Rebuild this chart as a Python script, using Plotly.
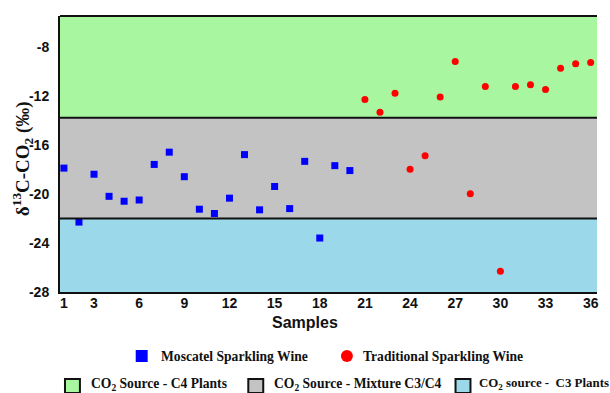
import plotly.graph_objects as go

# ---------------- data ----------------
moscatel_samples = list(range(1, 21))
moscatel_values = [-17.9, -22.3, -18.4, -20.2, -20.6, -20.5, -17.6, -16.6, -18.6, -21.25,
                   -21.6, -20.35, -16.8, -21.3, -19.4, -21.2, -17.35, -23.6, -17.7, -18.1]
traditional_samples = list(range(21, 37))
traditional_values = [-12.3, -13.35, -11.8, -18.0, -16.9, -12.1, -9.2, -20.0,
                      -11.25, -26.3, -11.25, -11.1, -11.5, -9.75, -9.4, -9.3]
x_tick_vals = [1, 3, 6, 9, 12, 15, 18, 21, 24, 27, 30, 33, 36]
y_tick_vals = [-28, -24, -20, -16, -12, -8]
y_tick_text = ["-28", "-24", "-20", "-16", "-12", "-8"]
zone_bounds = [-28, -22.0, -13.8, -5.5]   # C3 | mixture | C4
zone_names = ["CO<sub>2</sub> source -\u00a0 C3 Plants",
              "CO<sub>2</sub> Source - Mixture C3/C4",
              "CO<sub>2</sub> Source - C4 Plants"]
zone_colors = ["#9AD8EA", "#C3C3C3", "#A8F7A0"]
series_names = ["Moscatel Sparkling Wine", "Traditional Sparkling Wine"]

# ---------------- layout constants ----------------
W, H = 610, 393
ML, MR, MT, MB = 60, 11, 16, 101
PW, PH = W - ML - MR, H - MT - MB


def px(xp):
    return (xp - ML) / PW


def py(yp):
    return (H - MB - yp) / PH


fig = go.Figure()
fig.add_trace(go.Scatter(x=moscatel_samples, y=moscatel_values, mode="markers",
                         name=series_names[0],
                         marker=dict(symbol="square", size=7, color="#0000FF")))
fig.add_trace(go.Scatter(x=traditional_samples, y=traditional_values, mode="markers",
                         name=series_names[1],
                         marker=dict(symbol="circle", size=7, color="#FF0000")))

shapes = []
# colored zones
for i in range(3):
    shapes.append(dict(type="rect", xref="paper", yref="y", x0=0, x1=1,
                       y0=zone_bounds[i], y1=zone_bounds[i + 1],
                       fillcolor=zone_colors[i], line=dict(width=0), layer="below"))
# boundaries between zones
for b in zone_bounds[1:3]:
    shapes.append(dict(type="line", xref="paper", yref="y", x0=0, x1=1, y0=b, y1=b,
                       line=dict(color="#111111", width=2)))
# top border
shapes.append(dict(type="line", xref="paper", yref="paper", x0=0, x1=1, y0=1, y1=1,
                   line=dict(color="#111111", width=2)))

annotations = []
# y title
annotations.append(dict(xref="paper", yref="paper", x=px(22), y=py(159),
                        text="δ<sup>13</sup>C-CO<sub>2</sub> (‰)", textangle=-90,
                        showarrow=False, xanchor="center", yanchor="middle",
                        font=dict(family="Liberation Serif, Times New Roman, serif",
                                  size=19, color="#111111", weight="bold")))
# x title
annotations.append(dict(xref="paper", yref="paper", x=px(306), y=py(322),
                        text="Samples", showarrow=False, xanchor="center", yanchor="middle",
                        font=dict(family="Liberation Sans, Arial, sans-serif",
                                  size=16, color="#111111", weight="bold")))

legfont = dict(family="Liberation Serif, Times New Roman, serif", size=13.6,
               color="#111111", weight="bold")
# legend row 1: series
shapes.append(dict(type="rect", xref="paper", yref="paper",
                   x0=px(136), x1=px(148), y0=py(362), y1=py(350),
                   fillcolor="#0000FF", line=dict(width=0)))
annotations.append(dict(xref="paper", yref="paper", x=px(159), y=py(356),
                        text=series_names[0], showarrow=False, xanchor="left",
                        yanchor="middle", font=legfont))
shapes.append(dict(type="circle", xref="paper", yref="paper",
                   x0=px(342), x1=px(354), y0=py(362), y1=py(350),
                   fillcolor="#FF0000", line=dict(width=0)))
annotations.append(dict(xref="paper", yref="paper", x=px(362), y=py(356),
                        text=series_names[1], showarrow=False, xanchor="left",
                        yanchor="middle", font=legfont))
# legend row 2: zones (C4, mixture, C3)
box_x = [65, 249, 457]
text_x = [89, 273, 479]
text_size = [13.6, 13.6, 12.9]
for k, zi in enumerate([2, 1, 0]):
    shapes.append(dict(type="rect", xref="paper", yref="paper",
                       x0=px(box_x[k]), x1=px(box_x[k] + 15), y0=py(393), y1=py(379),
                       fillcolor=zone_colors[zi], line=dict(color="#111111", width=2)))
    annotations.append(dict(xref="paper", yref="paper", x=px(text_x[k]), y=py(384),
                            text=zone_names[zi], showarrow=False, xanchor="left",
                            yanchor="middle", font={**legfont, "size": text_size[k]}))

tickfont = dict(family="Liberation Sans, Arial, sans-serif", size=14,
                color="#111111", weight="bold")
fig.update_layout(
    width=W, height=H,
    margin=dict(l=ML, r=MR, t=MT, b=MB, pad=0),
    paper_bgcolor="white", plot_bgcolor="white",
    showlegend=False,
    shapes=shapes, annotations=annotations,
    xaxis=dict(range=[0.74, 36.42], tickvals=x_tick_vals, ticks="", showgrid=False,
               zeroline=False, showline=True, linecolor="#111111", linewidth=2,
               tickfont=tickfont, ticklabelstandoff=-3),
    yaxis=dict(range=[zone_bounds[0], zone_bounds[-1]], tickvals=y_tick_vals,
               ticktext=y_tick_text, ticks="", showgrid=False, zeroline=False,
               showline=True, linecolor="#111111", linewidth=2,
               tickfont=tickfont, ticklabelstandoff=6),
)

fig.write_html("out.html", config={"displayModeBar": False},
               post_script="document.body.style.margin='0';document.body.style.padding='0';"
                           "document.documentElement.style.overflow='hidden';")
